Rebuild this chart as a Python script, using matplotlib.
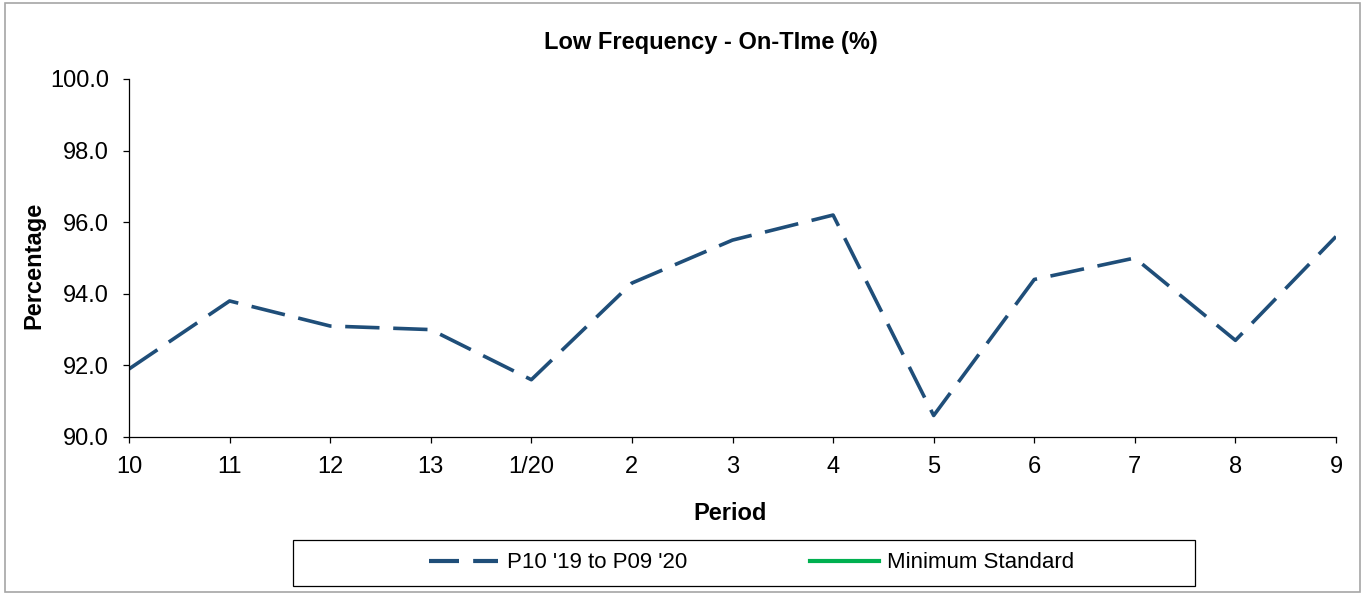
import matplotlib
matplotlib.use("Agg")
import matplotlib.pyplot as plt
from matplotlib.patches import Rectangle
from matplotlib.lines import Line2D

periods = ["10", "11", "12", "13", "1/20", "2", "3", "4", "5", "6", "7", "8", "9"]
on_time = [91.9, 93.8, 93.1, 93.0, 91.6, 94.3, 95.5, 96.2, 90.6, 94.4, 95.0, 92.7, 95.6]
minimum_standard = [None] * len(periods)  # not visible within the plotted range
y_ticks = [90.0, 92.0, 94.0, 96.0, 98.0, 100.0]

plt.rcParams["font.family"] = ["Liberation Sans", "DejaVu Sans"]

W, H = 1365, 595
fig = plt.figure(figsize=(W / 100, H / 100), dpi=100)
ax = fig.add_axes([129 / W, 1 - 437 / H, (1336 - 129) / W, (437 - 79) / H])

x = list(range(len(periods)))
series_color = "#1f4e79"
std_color = "#00b050"
ax.plot(x, on_time, color=series_color, lw=2.6, dashes=(9.5, 3.8), dash_capstyle="butt")
ms = [v if v is not None else float("nan") for v in minimum_standard]
ax.plot(x, ms, color=std_color, lw=2.6)

ax.set_xlim(0, len(periods) - 1)
ax.set_ylim(90, 100)
ax.set_xticks(x)
ax.set_xticklabels(periods)
ax.set_yticks(y_ticks)
ax.set_yticklabels([f"{v:.1f}" for v in y_ticks])
for s in ["top", "right"]:
    ax.spines[s].set_visible(False)
for s in ["left", "bottom"]:
    ax.spines[s].set_linewidth(0.9)
    ax.spines[s].set_color("black")
ax.tick_params(axis="x", direction="out", length=4.5, width=0.9, labelsize=17, pad=9)
ax.tick_params(axis="y", direction="out", length=4.5, width=0.9, labelsize=17, pad=10)

fig.text(711 / W, 1 - 42 / H, "Low Frequency - On-TIme (%)", ha="center", va="center",
         fontsize=17, fontweight="bold")
fig.text(34 / W, 1 - 265 / H, "Percentage", ha="center", va="center", rotation=90,
         fontsize=17, fontweight="bold")
fig.text(730 / W, 1 - 514 / H, "Period", ha="center", va="center",
         fontsize=17, fontweight="bold")

# legend box
fig.patches.append(Rectangle((293 / W, 1 - 586 / H), (1195 - 293) / W, (586 - 540) / H,
                             transform=fig.transFigure, fill=False, edgecolor="black", lw=0.9))
handles = [Line2D([], [], color=series_color, lw=3, dashes=(7.2, 3.4), dash_capstyle="butt"),
           Line2D([], [], color=std_color, lw=3)]
fig.legend(handles, ["P10 '19 to P09 '20", "Minimum Standard"], loc="center",
           bbox_to_anchor=(752 / W, 1 - 563 / H), ncol=2, frameon=False, fontsize=16,
           handlelength=3.1, handletextpad=0.4, columnspacing=5.5)

# outer chart border
fig.patches.append(Rectangle((5 / W, 1 - 592 / H), (1360 - 5) / W, (592 - 3) / H,
                             transform=fig.transFigure, fill=False, edgecolor="#a6a6a6", lw=1.2))

fig.savefig("out.png", dpi=100)
